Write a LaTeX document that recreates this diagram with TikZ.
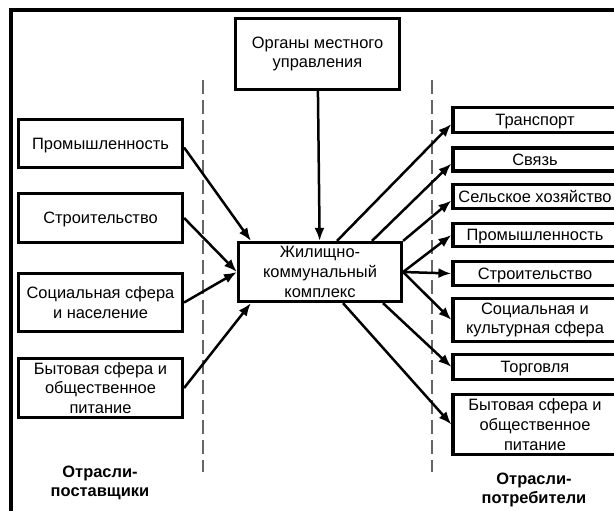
\documentclass[tikz,border=0pt]{standalone}
\usepackage{fontspec}
\setmainfont{Liberation Sans}
\usetikzlibrary{arrows.meta}
\newcommand{\boxfont}{\fontsize{16.5}{19.8}\selectfont}
\tikzset{
  box/.style={draw, line width=3.2bp, minimum width=164bp, inner xsep=1bp, inner ysep=0bp, align=center, font=\boxfont},
  single/.style={box, text depth=0bp},
  arr/.style={-{Latex[length=13bp,width=10bp]}, line width=2.5bp},
  sep/.style={draw=black!60, line width=1.3bp, dash pattern=on 14bp off 6bp},
  frame/.style={line width=4bp},
  caption/.style={align=center, font=\boxfont\bfseries}
}

\begin{document}
\begin{tikzpicture}[x=1bp,y=-1bp]
\useasboundingbox (0,0) rectangle (614,511);
%frame and separators
\draw[frame] (11,540) -- (11,10) -- (650,10);
\draw[sep] (203,80) -- (203,472);
\draw[sep] (432,80) -- (432,472);

\node[box, minimum height=71bp] (org) at (317.5,54) {Органы местного\\управления};
\node[box, minimum width=163bp, minimum height=59bp] (hub) at (320,272) {Жилищно-\\коммунальный\\комплекс};

%suppliers
\node[single, minimum height=48bp] (s1) at (100.5,143.5) {Промышленность};
\node[single, minimum height=49bp] (s2) at (100.5,218) {Строительство};
\node[box, minimum height=58bp] (s3) at (100.5,302.5) {Социальная сфера\\и население};
\node[box, minimum height=59bp] (s4) at (100.5,388) {Бытовая сфера и\\общественное\\питание};
\node[caption] (sup) at (100,483) {Отрасли-\\поставщики};

%consumers
\node[single, minimum height=25bp] (c1) at (535,120) {Транспорт};
\node[single, minimum height=23bp] (c2) at (535,159.5) {Связь};
\node[single, minimum height=24bp] (c3) at (535,196.5) {Сельское хозяйство};
\node[single, minimum height=23bp] (c4) at (535,235) {Промышленность};
\node[single, minimum height=24bp] (c5) at (535,273.5) {Строительство};
\node[box, minimum height=43bp] (c6) at (535,320) {Социальная и\\культурная сфера};
\node[single, minimum height=25bp] (c7) at (535,367) {Торговля};
\node[box, minimum height=60bp] (c8) at (535,424.5) {Бытовая сфера и\\общественное\\питание};
\node[caption] (con) at (534,490) {Отрасли-\\потребители};

\draw[arr] (org) -- (hub);
\draw[arr] ([yshift=-4bp]s1.east) -- ([xshift=14bp]hub.north west);
\draw[arr] (s2.east) -- (hub.west);
\draw[arr] (s3.east) -- (hub.west);
\draw[arr] (s4.east) -- ([xshift=14bp]hub.south west);

\draw[arr] ([xshift=17bp]hub.north) -- ([yshift=-4bp]c1.west);
\draw[arr] ([xshift=52bp]hub.north) -- ([yshift=-4bp]c2.west);
\draw[arr] (hub.north east) -- ([yshift=-4bp]c3.west);
\draw[arr] (hub.east) -- (c4.west);
\draw[arr] (hub.east) -- (c5.west);
\draw[arr] (hub.east) -- (c6.west);
\draw[arr] ([xshift=63bp]hub.south) -- (c7.west);
\draw[arr] ([xshift=23bp]hub.south) -- (c8.west);

\end{tikzpicture}
\end{document}
